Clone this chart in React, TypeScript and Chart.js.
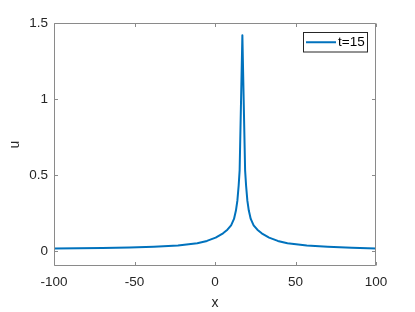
import React, { useEffect, useRef } from "react";
import { Chart, registerables } from "chart.js";

Chart.register(...registerables);

const xValues = [
  -100, -85, -70, -53, -38, -23, -11, -5, 0.4, 5, 7.7, 10, 11.8, 13, 13.9, 14.7, 15.3,
  17,
  18.7, 19.3, 20.1, 21, 22.2, 24, 26.3, 29, 33.6, 39, 45, 57, 70, 85, 100,
];
const uValues = [
  0.015, 0.017, 0.019, 0.022, 0.027, 0.035, 0.05, 0.065, 0.087, 0.115, 0.139, 0.168, 0.21, 0.265, 0.33, 0.43, 0.53,
  1.42,
  0.53, 0.43, 0.33, 0.265, 0.21, 0.168, 0.139, 0.115, 0.087, 0.065, 0.05, 0.035, 0.027, 0.02, 0.015,
];
const xTicks = [-100, -50, 0, 50, 100];
const yTicks = [0, 0.5, 1, 1.5];
const seriesLabel = "t=15";
const xTitle = "x";
const yTitle = "u";

const LINE_COLOR = "#0072BD";
const TEXT_COLOR = "#262626";
const AXIS_COLOR = "#8a8a8a";
const FONT_FAMILY = "'Liberation Sans', Arial, Helvetica, sans-serif";
const FONT = { family: FONT_FAMILY, size: 13.5 };

const matlabAxes = {
  id: "matlabAxes",
  afterDatasetsDraw(chart: any) {
    const { ctx, chartArea: a, scales } = chart;
    const L = Math.round(a.left) + 0.5;
    const R = Math.round(a.right) - 0.5;
    const T = Math.round(a.top) + 0.5;
    const B = Math.round(a.bottom) - 0.5;
    const tl = 3.5;
    ctx.save();
    ctx.strokeStyle = AXIS_COLOR;
    ctx.lineWidth = 1;
    ctx.beginPath();
    ctx.rect(L, T, R - L, B - T);
    for (const v of xTicks) {
      const px = Math.round(scales.x.getPixelForValue(v)) + 0.5;
      ctx.moveTo(px, B);
      ctx.lineTo(px, B - tl);
      ctx.moveTo(px, T);
      ctx.lineTo(px, T + tl);
    }
    for (const v of yTicks) {
      const py = Math.round(scales.y.getPixelForValue(v)) + 0.5;
      ctx.moveTo(L, py);
      ctx.lineTo(L + tl, py);
      ctx.moveTo(R, py);
      ctx.lineTo(R - tl, py);
    }
    ctx.stroke();

    // legend
    const ds = chart.data.datasets[0];
    ctx.font = `${FONT.size}px ${FONT_FAMILY}`;
    const tw = ctx.measureText(ds.label).width;
    const padL = 2.5, lineLen = 30, gap = 2, padR = 3;
    const w = padL + lineLen + gap + tw + padR;
    const h = 19.5;
    const bx = Math.round(R - 8.5 - w) + 0.5;
    const by = Math.round(T + 8.5) + 0.5;
    ctx.fillStyle = "#ffffff";
    ctx.fillRect(bx, by, w, h);
    ctx.strokeStyle = "#262626";
    ctx.lineWidth = 1;
    ctx.strokeRect(bx, by, Math.round(w), h);
    const cy = by + h / 2;
    ctx.strokeStyle = ds.borderColor;
    ctx.lineWidth = 2;
    ctx.beginPath();
    ctx.moveTo(bx + padL, cy);
    ctx.lineTo(bx + padL + lineLen, cy);
    ctx.stroke();
    ctx.fillStyle = "#000000";
    ctx.textBaseline = "middle";
    ctx.textAlign = "left";
    ctx.fillText(ds.label, bx + padL + lineLen + gap, cy + 0.5);
    ctx.restore();
  },
};

export default function App() {
  const canvasRef = useRef<HTMLCanvasElement | null>(null);

  useEffect(() => {
    const canvas = canvasRef.current;
    if (!canvas) return;
    const chart = new Chart(canvas, {
      type: "line",
      data: {
        datasets: [
          {
            label: seriesLabel,
            data: xValues.map((x, i) => ({ x, y: uValues[i] })),
            borderColor: LINE_COLOR,
            borderWidth: 2,
            borderJoinStyle: "round",
            borderCapStyle: "round",
            pointRadius: 0,
            tension: 0,
            fill: false,
          },
        ],
      },
      options: {
        animation: false,
        responsive: false,
        devicePixelRatio: 1,
        layout: { padding: { top: 23, right: 39, left: 0, bottom: 0 } },
        plugins: { legend: { display: false }, tooltip: { enabled: false } },
        scales: {
          x: {
            type: "linear",
            min: -100,
            max: 100,
            afterFit: (s: any) => {
              s.height = 46;
            },
            afterBuildTicks: (s: any) => {
              s.ticks = xTicks.map((v) => ({ value: v }));
            },
            grid: { display: false, drawTicks: false },
            border: { display: false },
            ticks: { padding: 8, font: FONT, color: TEXT_COLOR, maxRotation: 0, autoSkip: false, callback: (v: any) => String(v) },
            title: { display: true, text: xTitle, font: { family: FONT_FAMILY, size: 14 }, color: TEXT_COLOR, padding: { top: 0, bottom: 0 } },
          },
          y: {
            type: "linear",
            min: -0.1,
            max: 1.5,
            afterFit: (s: any) => {
              s.width = 54;
            },
            afterBuildTicks: (s: any) => {
              s.ticks = yTicks.map((v) => ({ value: v }));
            },
            grid: { display: false, drawTicks: false },
            border: { display: false },
            ticks: { padding: 6, font: FONT, color: TEXT_COLOR, autoSkip: false, callback: (v: any) => String(v) },
            title: { display: true, text: yTitle, font: { family: FONT_FAMILY, size: 14 }, color: TEXT_COLOR, padding: { top: 7, bottom: 0 } },
          },
        },
      },
      plugins: [matlabAxes],
    });
    return () => chart.destroy();
  }, []);

  return (
    <div style={{ position: "absolute", left: 0, top: 0, width: 415, height: 312, background: "#ffffff" }}>
      <canvas ref={canvasRef} width={415} height={312} style={{ display: "block" }} />
    </div>
  );
}
